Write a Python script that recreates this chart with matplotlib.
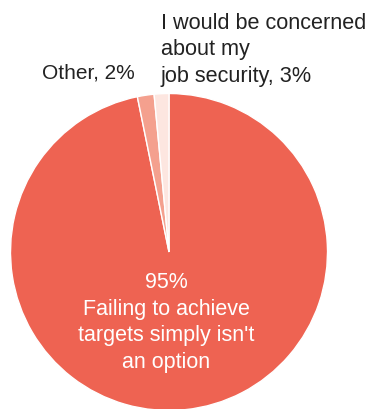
import matplotlib
matplotlib.use("Agg")
import matplotlib.pyplot as plt

labels = ["Failing to achieve\ntargets simply isn't\nan option", "Other", "I would be concerned\nabout my\njob security"]
label_pcts = [95, 2, 3]
# slice shares as drawn in the picture
shares = [96.8, 1.7, 1.5]
colors = ["#EE6352", "#F4A08E", "#FDE6E0"]

plt.rcParams['font.family'] = ['Liberation Sans', 'DejaVu Sans']
W, H = 371, 410
fig = plt.figure(figsize=(W/100, H/100), dpi=100)
ax = fig.add_axes([0, 0, 1, 1])

cx, cy, r = 169, H - 253, 158.5
ax.pie(shares, colors=colors, startangle=90, counterclock=False, center=(cx, cy), radius=r,
       wedgeprops=dict(edgecolor='white', linewidth=1.0), frame=True)
ax.set_xlim(0, W)
ax.set_ylim(0, H)
ax.set_aspect('equal')
ax.axis('off')

ax.text(166.5, H - 322.5, f"{label_pcts[0]}%\n{labels[0]}", color='white', fontsize=15.5,
        ha='center', va='center', linespacing=1.34)
ax.text(135, H - 73, f"{labels[1]}, {label_pcts[1]}%", color='#222222', fontsize=15,
        ha='right', va='center')
ax.text(161, H - 50, f"{labels[2]}, {label_pcts[2]}%", color='#222222', fontsize=15.6,
        ha='left', va='center', linespacing=1.32)

fig.savefig("out.png", dpi=100)
